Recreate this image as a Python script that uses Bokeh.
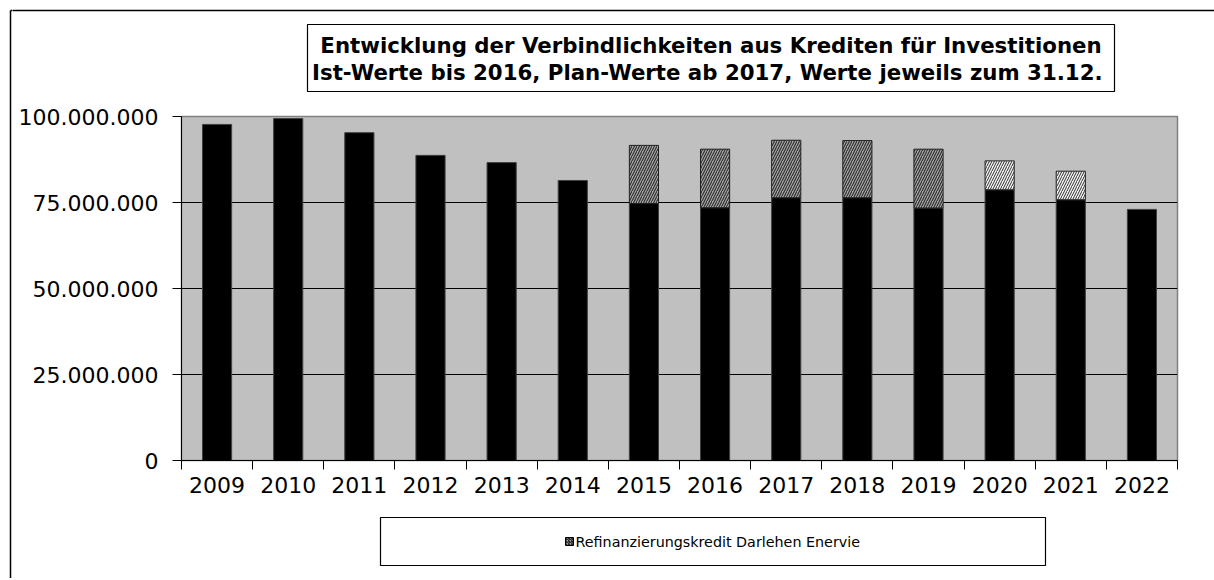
from bokeh.plotting import figure
from bokeh.models import ColumnDataSource, FixedTicker, Range1d
from bokeh.layouts import row, column
from bokeh.core.properties import value
from bokeh.embed import file_html
from bokeh.resources import INLINE

# ---- data ----
years = ["2009", "2010", "2011", "2012", "2013", "2014", "2015",
         "2016", "2017", "2018", "2019", "2020", "2021", "2022"]
verbindlichkeiten = [97.7e6, 99.4e6, 95.3e6, 88.7e6, 86.6e6, 81.4e6, 74.7e6,
                     73.5e6, 76.4e6, 76.4e6, 73.4e6, 78.7e6, 75.8e6, 73.0e6]
refinanzierung = [0, 0, 0, 0, 0, 0, 16.9e6,
                  17.0e6, 16.7e6, 16.6e6, 17.1e6, 8.4e6, 8.3e6, 0]
y_ticks = [0, 25e6, 50e6, 75e6, 100e6]
y_tick_labels = ["0", "25.000.000", "50.000.000", "75.000.000", "100.000.000"]
title_lines = ["Entwicklung der Verbindlichkeiten aus Krediten für Investitionen",
               "Ist-Werte bis 2016, Plan-Werte ab 2017, Werte jeweils  zum 31.12."]
legend_label = "Refinanzierungskredit Darlehen Enervie"

FONT = "DejaVu Sans"
TOTAL_W, TOTAL_H = 1214, 578
STRIP_W = 12
TITLE_H, MAIN_H = 96, 420
LEG_H = TOTAL_H - TITLE_H - MAIN_H
INNER_W = TOTAL_W - STRIP_W


def deco_fig(w, h, x0, y0):
    f = figure(width=w, height=h, output_backend="svg", toolbar_location=None,
               x_range=Range1d(x0, x0 + w), y_range=Range1d(y0 + h, y0),
               x_axis_type=None, y_axis_type=None, min_border=0,
               frame_align=False,
               border_fill_color="white", background_fill_color="white")
    f.outline_line_color = None
    f.grid.visible = False
    return f


# ---- left strip: outer frame ----
strip = deco_fig(STRIP_W, TOTAL_H, 0, 0)
strip.segment(x0=[10, 10], y0=[10, 10], x1=[10, STRIP_W + 1], y1=[TOTAL_H + 5, 10],
              line_color="black", line_width=1.5)

# ---- title ----
tfig = deco_fig(INNER_W, TITLE_H, STRIP_W, 0)
tfig.segment(x0=[STRIP_W - 1], y0=[10], x1=[TOTAL_W + 5], y1=[10],
             line_color="black", line_width=1.5)
tfig.quad(left=[307], right=[1114], top=[24], bottom=[91],
          fill_color="white", line_color="black", line_width=1.2)
tfig.text(x=[710.5, 710.5], y=[45, 72], text=title_lines,
          text_align="center", text_baseline="middle",
          text_font=value(FONT), text_font_style="bold",
          text_font_size=value("21.3px"), text_color="black")

# ---- main chart ----
n = len(years)
xc = [i + 0.5 for i in range(n)]
base_src = ColumnDataSource(dict(x=xc, top=verbindlichkeiten))

dark = dict(x=[], bottom=[], top=[])
light = dict(x=[], bottom=[], top=[])
for i, (b, r) in enumerate(zip(verbindlichkeiten, refinanzierung)):
    if r > 0:
        d = dark if int(years[i]) <= 2019 else light
        d["x"].append(xc[i]); d["bottom"].append(b); d["top"].append(b + r)

p = figure(width=INNER_W, height=MAIN_H, output_backend="svg", toolbar_location=None,
           x_range=Range1d(0, n), y_range=Range1d(0, 100e6),
           min_border_left=181 - STRIP_W, min_border_right=TOTAL_W - 1177,
           min_border_top=116 - TITLE_H, min_border_bottom=TITLE_H + MAIN_H - 460,
           background_fill_color="#C0C0C0", border_fill_color="white")
p.outline_line_color = "#808080"
p.outline_line_width = 1.5

p.vbar(x="x", top="top", bottom=0, width=0.41, source=base_src,
       fill_color="black", line_color="#404040", line_width=1)
p.vbar(x="x", top="top", bottom="bottom", width=0.41, source=ColumnDataSource(dark),
       fill_color="#A8A8A8", line_color="#202020", line_width=1,
       hatch_pattern="/", hatch_color="#303030", hatch_scale=5, hatch_weight=1.2)
p.vbar(x="x", top="top", bottom="bottom", width=0.41, source=ColumnDataSource(light),
       fill_color="#F4F4F4", line_color="#202020", line_width=1,
       hatch_pattern="/", hatch_color="#303030", hatch_scale=5, hatch_weight=1)

p.yaxis.ticker = FixedTicker(ticks=y_ticks)
p.yaxis.major_label_overrides = {float(t): l for t, l in zip(y_ticks, y_tick_labels)}
p.yaxis.major_label_text_font = FONT
p.yaxis.major_label_text_font_size = "22px"
p.yaxis.major_label_text_color = "black"
p.yaxis.major_tick_in = 0
p.yaxis.major_tick_out = 9
p.yaxis.minor_tick_out = 0
p.yaxis.minor_tick_in = 0
p.yaxis.major_label_standoff = 14
p.yaxis.axis_line_color = "black"
p.yaxis.major_tick_line_color = "black"

p.xaxis.ticker = FixedTicker(ticks=xc, minor_ticks=list(range(n + 1)))
p.xaxis.major_label_overrides = {float(x): y for x, y in zip(xc, years)}
p.xaxis.major_label_text_font = FONT
p.xaxis.major_label_text_font_size = "22px"
p.xaxis.major_label_text_color = "black"
p.xaxis.major_tick_in = 0
p.xaxis.major_tick_out = 0
p.xaxis.minor_tick_in = 0
p.xaxis.minor_tick_out = 9
p.xaxis.minor_tick_line_color = "black"
p.xaxis.major_label_standoff = 7
p.xaxis.axis_line_color = "black"

p.xgrid.grid_line_color = None
p.ygrid.ticker = FixedTicker(ticks=y_ticks[1:-1])
p.ygrid.grid_line_color = "black"
p.ygrid.grid_line_width = 1

# ---- legend ----
lfig = deco_fig(INNER_W, LEG_H, STRIP_W, TITLE_H + MAIN_H)
lfig.quad(left=[380], right=[1045], top=[517], bottom=[565],
          fill_color="white", line_color="black", line_width=1.2)
lfig.quad(left=[565], right=[573], top=[537], bottom=[545],
          fill_color="#A8A8A8", line_color="black", line_width=1,
          hatch_pattern="/", hatch_color="black", hatch_scale=3, hatch_weight=1)
lfig.text(x=[575], y=[541], text=[legend_label],
          text_align="left", text_baseline="middle",
          text_font=value(FONT), text_font_size=value("14.3px"), text_color="black")

layout = row(strip, column(tfig, p, lfig, spacing=0), spacing=0)

open("out.html", "w").write(file_html(layout, INLINE))
